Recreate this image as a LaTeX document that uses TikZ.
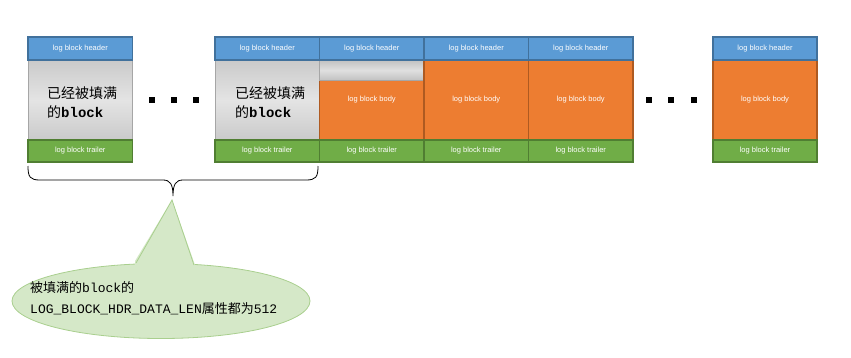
\documentclass[tikz,border=0pt]{standalone}
\usepackage{fontspec}
\usetikzlibrary{shapes.geometric}
\setmainfont{Liberation Sans}
\newfontfamily\cjk{Noto Sans CJK SC}
\newfontfamily\monof{Liberation Mono}
\definecolor{hdrfill}{HTML}{5B9BD5}
\definecolor{hdrline}{HTML}{41719C}
\definecolor{bodyfill}{HTML}{ED7D31}
\definecolor{bodyline}{HTML}{AE5A21}
\definecolor{trlfill}{HTML}{70AD47}
\definecolor{trlline}{HTML}{507E32}
\definecolor{grayfill}{HTML}{D2D2D2}
\definecolor{grayline}{HTML}{A6A6A6}
\definecolor{callfill}{HTML}{D5E8C8}
\definecolor{callline}{HTML}{A9CF8E}
\tikzset{
  cell/.style={rectangle, inner sep=0pt, outer sep=0pt, line width=1.8pt, minimum width=104.5pt, text=white, font=\fontsize{7.5}{9}\selectfont},
  hdr/.style={cell, fill=hdrfill, draw=hdrline, minimum height=23pt},
  trl/.style={cell, fill=trlfill, draw=trlline, minimum height=22pt},
  obody/.style={cell, fill=bodyfill, draw=bodyline, minimum height=80pt},
  gbody/.style={cell, top color=grayfill!90!gray, bottom color=grayfill!90!gray, middle color=grayfill!60!white, draw=grayline, line width=1pt, minimum height=80pt},
  gstrip/.style={rectangle, inner sep=0pt, top color=grayfill!80!gray, bottom color=grayfill!80!gray, middle color=grayfill!70!white, draw=grayline, line width=0.8pt, minimum width=104.5pt, minimum height=20pt},
  olow/.style={rectangle, inner sep=0pt, fill=bodyfill, draw=bodyline, line width=1.8pt, minimum width=104.5pt, minimum height=60pt},
  dot/.style={rectangle, fill=black, inner sep=0pt, minimum width=6pt, minimum height=6.5pt},
  fulltxt/.style={anchor=west, align=left, inner sep=0pt, font=\fontsize{14}{19}\selectfont},
  btxt/.style={text=white, inner sep=0pt, font=\fontsize{7.5}{9}\selectfont}
}
\begin{document}
\begin{tikzpicture}[x=1pt,y=-1pt]
\useasboundingbox (0,0) rectangle (851,357);
% block 1
\node[gbody] (b1) at (80.25,100) {};
\node[hdr] (h1) at (80.25,48.5) {log block header};
\node[trl] (t1) at (80.25,151) {log block trailer};
\node[fulltxt] (f1) at (47,103) {{\cjk 已经被填满}\\{\cjk 的}{\monof\bfseries block}};
% dots 1
\node[dot] (d1) at (151.5,100) {};
\node[dot] (d2) at (174,100) {};
\node[dot] (d3) at (196,100) {};
% block 2
\node[gbody] (b2) at (267.25,100) {};
\node[hdr] (h2) at (267.25,48.5) {log block header};
\node[trl] (t2) at (267.25,151) {log block trailer};
\node[fulltxt] (f2) at (235,103) {{\cjk 已经被填满}\\{\cjk 的}{\monof\bfseries block}};
% block 3
\node[olow] (b3) at (371.75,110) {};
\node[gstrip] (s3) at (371.75,70) {};
\node[btxt] (l3) at (371.75,100) {log block body};
\node[hdr] (h3) at (371.75,48.5) {log block header};
\node[trl] (t3) at (371.75,151) {log block trailer};
% block 4
\node[obody] (b4) at (476.25,100) {log block body};
\node[hdr] (h4) at (476.25,48.5) {log block header};
\node[trl] (t4) at (476.25,151) {log block trailer};
% block 5
\node[obody] (b5) at (580.75,100) {log block body};
\node[hdr] (h5) at (580.75,48.5) {log block header};
\node[trl] (t5) at (580.75,151) {log block trailer};
% dots 2
\node[dot] (d4) at (649,100) {};
\node[dot] (d5) at (671,100) {};
\node[dot] (d6) at (694,100) {};
% block 6
\node[obody] (b6) at (765,100) {log block body};
\node[hdr] (h6) at (765,48.5) {log block header};
\node[trl] (t6) at (765,151) {log block trailer};
% brace
\coordinate (bl) at (28,166);
\coordinate (br) at (318,166);
\coordinate (bt) at (173,196);
\draw[line width=0.8pt] (bl) .. controls (28,177) and (30,180) .. (40,180) -- (163,180) .. controls (170,180) and (173,184) .. (bt) .. controls (173,184) and (176,180) .. (183,180) -- (306,180) .. controls (316,180) and (318,177) .. (br);
% callout
\node[ellipse, minimum width=298pt, minimum height=75pt, fill=callfill, draw=callline, line width=0.8pt, inner sep=0pt] (co) at (161,301) {};
\coordinate (ct) at (172,200);
\fill[callfill] (ct) -- (135,261) -- (135,272) -- (195,272) -- (195,265) -- cycle;
\draw[callline, line width=0.8pt] (136,263) -- (ct) -- (194,265);
\node[anchor=west, align=left, inner sep=0pt, font=\fontsize{13}{21}\selectfont] (ctext) at (30,298) {{\cjk 被填满的}{\monof block}{\cjk 的}\\{\monof LOG\_BLOCK\_HDR\_DATA\_LEN}{\cjk 属性都为}{\monof 512}};
\end{tikzpicture}
\end{document}
